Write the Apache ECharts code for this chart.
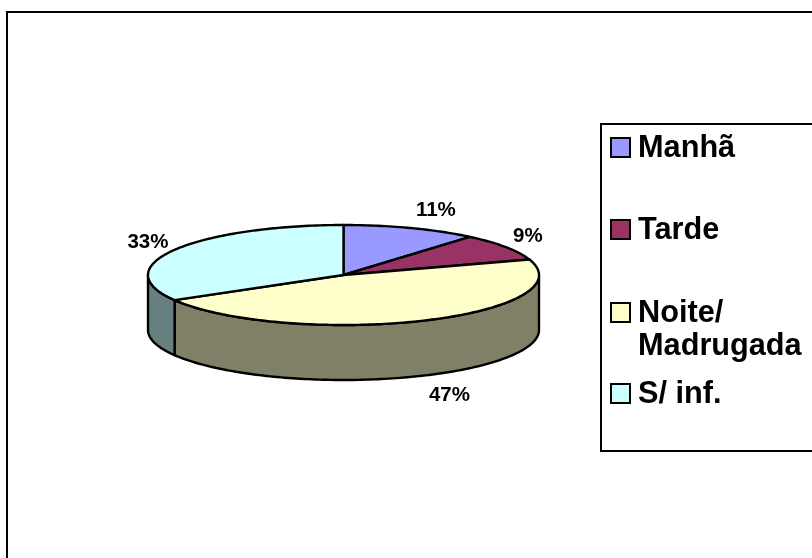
<!DOCTYPE html>
<html>
<head>
<meta charset="utf-8">
<style>
  html, body { margin: 0; padding: 0; background: #fff; }
  #chart { width: 812px; height: 558px; }
</style>
<script src="https://cdn.jsdelivr.net/npm/echarts@6/dist/echarts.min.js"></script>
</head>
<body>
<div id="chart"></div>
<script>
var categories = ['Manhã', 'Tarde', 'Noite/\nMadrugada', 'S/ inf.'];
var values = [11.2, 8.8, 46.6, 33.4];
var topColors = ['#9999ff', '#993366', '#ffffcc', '#ccffff'];
var wallColors = ['#4d4d80', '#4d1a33', '#808066', '#668080'];

// pie geometry, tilted disc
var cx = 343.5, cy = 275, rx = 195.5, ry = 50, depth = 55;
// label offset from the rim point at the middle of each slice
var labelOffsets = [[25, -18], [22, -11], [26, 20], [-26, -8]];
var fontName = '"Liberation Sans", Arial, sans-serif';

var total = values.reduce(function (a, b) { return a + b; }, 0);

// angle is clockwise from the top of the disc
function rim(angle, dy) {
  return [cx + rx * Math.sin(angle), cy - ry * Math.cos(angle) + (dy || 0)];
}

function arc(from, to, dy) {
  var pts = [];
  var steps = Math.max(2, Math.ceil((to - from) / 0.02));
  for (var i = 0; i <= steps; i++) {
    pts.push(rim(from + (to - from) * i / steps, dy));
  }
  return pts;
}

function makeRender(index) {
  return function (params, api) {
    var val = api.value(0);
    var before = 0;
    for (var i = 0; i < index; i++) before += values[i];
    var start = before / total * Math.PI * 2;
    var end = (before + val) / total * Math.PI * 2;
    var children = [];

    // front wall, only the part between 90 and 270 degrees shows
    var wallFrom = Math.max(start, Math.PI / 2);
    var wallTo = Math.min(end, Math.PI * 1.5);
    if (wallTo > wallFrom) {
      var wall = arc(wallFrom, wallTo, 0).concat(arc(wallFrom, wallTo, depth).reverse());
      children.push({
        type: 'polygon',
        shape: { points: wall },
        style: { fill: wallColors[index], stroke: '#000', lineWidth: 2.4, lineJoin: 'round' }
      });
    }

    children.push({
      type: 'polygon',
      shape: { points: [[cx, cy]].concat(arc(start, end, 0)) },
      style: { fill: topColors[index], stroke: '#000', lineWidth: 2.4, lineJoin: 'round' }
    });

    var midAngle = (start + end) / 2;
    var mid = rim(midAngle, midAngle > Math.PI / 2 && midAngle < Math.PI * 1.5 ? depth : 0);
    children.push({
      type: 'text',
      style: {
        text: Math.round(val) + '%',
        x: mid[0] + labelOffsets[index][0],
        y: mid[1] + labelOffsets[index][1],
        align: 'center',
        verticalAlign: 'middle',
        fill: '#000',
        fontFamily: fontName,
        fontWeight: 'bold',
        fontSize: 20.5
      }
    });
    return { type: 'group', children: children };
  };
}

var legendTops = [130.5, 212.5, 262.5, 376.5];

var option = {
  animation: false,
  backgroundColor: '#fff',
  graphic: [
    { type: 'line', shape: { x1: 7, y1: 11, x2: 7, y2: 558 }, style: { stroke: '#000', lineWidth: 2 } },
    { type: 'line', shape: { x1: 6, y1: 12, x2: 812, y2: 12 }, style: { stroke: '#000', lineWidth: 2 } },
    { type: 'rect', z: -1, shape: { x: 601, y: 124, width: 215, height: 327 }, style: { fill: '#fff', stroke: '#000', lineWidth: 2 } }
  ],
  legend: categories.map(function (name, i) {
    return {
      data: [name],
      left: 610,
      top: legendTops[i],
      padding: 0,
      itemWidth: 19,
      itemHeight: 19,
      icon: 'rect',
      itemStyle: { borderColor: '#000', borderWidth: 2 },
      // blank first line on the two-line item keeps the swatch beside "Noite/"
      formatter: function (n) {
        var lines = (i === 2 ? ' \n' + n : n).split('\n');
        return lines.map(function (s) { return '{a|' + s + '}'; }).join('\n');
      },
      textStyle: {
        color: '#000',
        fontFamily: fontName,
        fontWeight: 'bold',
        fontSize: 30.7,
        lineHeight: 33,
        rich: {
          a: {
            color: '#000',
            fontFamily: fontName,
            fontWeight: 'bold',
            fontSize: 30.7,
            lineHeight: 33,
            padding: [3, 0, 0, 3]
          }
        }
      }
    };
  }),
  series: categories.map(function (name, i) {
    return {
      type: 'custom',
      name: name,
      coordinateSystem: 'none',
      itemStyle: { color: topColors[i] },
      renderItem: makeRender(i),
      data: [[values[i]]]
    };
  })
};

var myChart = echarts.init(document.getElementById('chart'));
myChart.setOption(option);
</script>
</body>
</html>
